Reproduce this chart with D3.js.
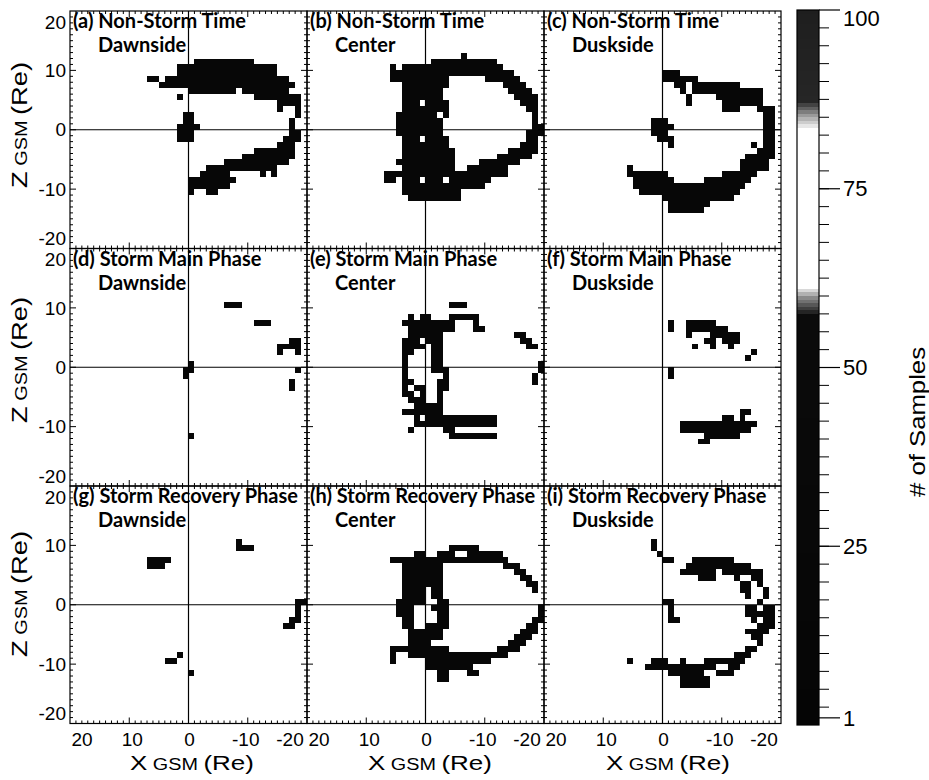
<!DOCTYPE html>
<html>
<head>
<meta charset="utf-8">
<script src="https://cdn.jsdelivr.net/npm/d3@7"></script>
<style>
  body { margin: 0; background: #fff; }
  text { font-family: "Liberation Sans", Arial, sans-serif; fill: #000; }
  .ttl { font-family: Lato, "Open Sans", sans-serif; font-weight: 700; }
</style>
</head>
<body>
<div id="chart"></div>
<script>
// occupied 1 Re bins, stored as row runs: [Z bottom edge, X left edge, X right edge]
const cellsA = [
  [11, -1, -11], [10, 2, -15], [9, 2, -15], [8, 7, 5], [8, 4, -17], [7, 5, -18],
  [6, 0, -8], [6, -9, -17], [5, 2, 1], [5, -11, -19], [4, -15, -19],
  [3, -15, -16], [3, -18, -19], [2, 1, -1], [2, -18, -19], [1, 1, -1], [1, -17, -18],
  [0, 2, -2], [0, -17, -18], [-1, 2, -1], [-1, -17, -19], [-2, 2, -1], [-2, -16, -19],
  [-3, -15, -18], [-4, -11, -18], [-5, -9, -18], [-6, -6, -17], [-7, -3, -15],
  [-8, -2, -7], [-8, -12, -13], [-8, -14, -15], [-9, 0, -8], [-10, 0, -7],
  [-11, 0, -1], [-11, -3, -5]
];
const cellsB = [
  [12, -6, -7], [11, -1, -12], [10, 6, 5], [10, 4, -13], [9, 6, -15],
  [8, 6, -4], [8, -10, -16], [7, 4, -4], [7, -13, -17], [6, 4, -3], [6, -14, -18],
  [5, 4, -3], [5, -15, -19], [4, 4, 1], [4, 0, -4], [4, -16, -19], [3, 4, -4], [3, -17, -19],
  [2, 5, -2], [2, -3, -4], [2, -18, -19], [1, 5, -3], [1, -18, -19], [0, 5, -3], [0, -18, -20],
  [-1, 5, -3], [-1, -17, -20], [-2, 4, 1], [-2, 0, -4], [-2, -17, -19], [-3, 4, -4], [-3, -16, -19],
  [-4, 4, -5], [-4, -14, -19], [-5, 4, -5], [-5, -12, -18], [-6, 5, -5], [-6, -9, -16],
  [-7, 4, -5], [-7, -7, -14], [-8, 7, -14], [-9, 7, 5], [-9, 4, 1], [-9, 0, -3], [-9, -4, -11],
  [-10, 4, -10], [-11, 4, -6], [-12, 3, -6]
];
const cellsC = [
  [9, 0, -3], [8, 0, -6], [7, -2, -4], [7, -5, -13], [6, -3, -4], [6, -5, -17],
  [5, -4, -5], [5, -9, -17], [4, -4, -5], [4, -10, -17], [3, -10, -13], [3, -16, -19],
  [2, -17, -19], [1, 2, -1], [1, -17, -19], [0, 2, -2], [0, -17, -19],
  [-1, 2, -1], [-1, -17, -19], [-2, 1, -2], [-2, -17, -19],
  [-3, -1, -2], [-3, -15, -16], [-3, -17, -19], [-4, -16, -19], [-5, -14, -19],
  [-6, -13, -18], [-7, 6, 5], [-7, -13, -18], [-8, 6, -1], [-8, -10, -16],
  [-9, 5, -2], [-9, -7, -15], [-10, 5, -14], [-11, 4, -13], [-12, 0, -12],
  [-13, -1, -8], [-14, -1, -7]
];
const cellsD = [
  [10, -6, -9], [7, -11, -14], [4, -17, -19], [3, -15, -19], [2, -15, -16], [2, -18, -19],
  [0, 0, -1], [-1, 1, -1], [-1, -18, -19], [-2, 1, 0], [-3, -17, -18], [-4, -17, -18],
  [-12, 0, -1]
];
const cellsE = [
  [10, -4, -7], [8, 3, 2], [8, 1, -1], [8, -4, -9], [7, 4, -5], [7, -8, -9],
  [6, 3, -5], [6, -8, -10], [5, 3, -3], [5, -15, -17], [4, 4, 1], [4, 0, -3], [4, -16, -18],
  [3, 4, 0], [3, -1, -3], [3, -17, -19], [2, 4, 2], [2, -1, -3], [1, 4, 3], [1, -1, -3],
  [0, 4, 3], [0, -1, -3], [0, -19, -20], [-1, 4, 3], [-1, -1, -4], [-1, -19, -20],
  [-2, 4, 3], [-2, -3, -4], [-2, -18, -19], [-3, 4, 2], [-3, -2, -4], [-3, -18, -19],
  [-4, 4, 3], [-4, 2, 0], [-4, -2, -4], [-5, 4, 2], [-5, 1, 0], [-5, -2, -3],
  [-6, 3, 0], [-6, -2, -3], [-7, 2, -3], [-8, 4, 2], [-8, 2, -3],
  [-9, 2, 1], [-9, 0, -12], [-10, 2, -12], [-11, 3, 2], [-11, -3, -5], [-12, -4, -12]
];
const cellsF = [
  [7, -1, -2], [7, -4, -9], [6, -1, -2], [6, -4, -11], [5, -4, -5], [5, -8, -13],
  [4, -7, -9], [4, -10, -13], [3, -5, -6], [3, -8, -9], [3, -11, -12],
  [2, -15, -16], [1, -14, -15], [-1, -1, -2], [-2, -1, -2],
  [-8, -13, -15], [-9, -10, -12], [-9, -13, -14], [-10, -3, -16], [-11, -3, -15],
  [-12, -7, -13], [-13, -6, -8]
];
const cellsG = [
  [10, -8, -9], [9, -8, -11], [7, 7, 3], [6, 7, 4],
  [0, -18, -20], [-1, -18, -19], [-2, -18, -19], [-3, -17, -19], [-4, -16, -18],
  [-9, 2, 1], [-10, 4, 2], [-12, 0, -1]
];
const cellsH = [
  [9, -4, -9], [8, 2, 0], [8, -2, -5], [8, -7, -13], [7, 6, -14],
  [6, 4, -3], [6, -13, -16], [5, 4, -3], [5, -15, -17], [4, 4, -3], [4, -16, -18],
  [3, 4, -3], [3, -17, -19], [2, 4, 0], [2, -1, -3], [2, -18, -19],
  [1, 4, 0], [1, -1, -3], [0, 5, 0], [0, -2, -4],
  [-1, 5, 2], [-1, -1, -4], [-1, -19, -20], [-2, 5, 2], [-2, -2, -4], [-2, -19, -20],
  [-3, 4, 2], [-3, -2, -4], [-3, -18, -20], [-4, 4, 2], [-4, 0, -4], [-4, -17, -19],
  [-5, 3, -3], [-5, -16, -19], [-6, 3, -3], [-6, -15, -18], [-7, 3, -1], [-7, -14, -17],
  [-8, 6, -4], [-8, -12, -16], [-9, 6, 5], [-9, 3, -14], [-10, 6, 5], [-10, 0, -11],
  [-11, 0, -8], [-12, -2, -4], [-12, -7, -9], [-13, -2, -4]
];
const cellsI = [
  [10, 2, 1], [9, 2, 1], [8, 1, 0], [7, 0, -2], [7, -5, -12], [6, -4, -15],
  [5, -3, -9], [5, -10, -17], [4, -6, -9], [4, -12, -13], [4, -15, -17],
  [3, -13, -15], [3, -16, -17], [2, -13, -15], [2, -17, -18], [1, -14, -15], [1, -17, -18],
  [0, 0, -2], [0, -16, -17], [-1, -1, -2], [-1, -14, -16], [-1, -17, -19],
  [-2, -1, -2], [-2, -14, -19], [-3, -1, -3], [-3, -15, -16], [-3, -17, -19],
  [-4, -16, -19], [-5, -14, -18], [-6, -15, -17], [-7, -16, -17], [-8, -14, -16],
  [-9, -12, -15], [-10, 6, 5], [-10, 2, -1], [-10, -3, -4], [-10, -7, -14],
  [-11, 3, -9], [-11, -11, -13], [-12, -1, -7], [-12, -9, -12], [-13, -3, -8], [-14, -3, -8]
];

const panelLetters = ["(a)", "(b)", "(c)", "(d)", "(e)", "(f)", "(g)", "(h)", "(i)"];
const phaseNames = ["Non-Storm Time", "Storm Main Phase", "Storm Recovery Phase"];
const sideNames = ["Dawnside", "Center", "Duskside"];
const panelCells = [cellsA, cellsB, cellsC, cellsD, cellsE, cellsF, cellsG, cellsH, cellsI];

const xTicks = [20, 10, 0, -10, -20];
const zTicks = [20, 10, 0, -10, -20];
const cbTicks = [1, 25, 50, 75, 100];
// grey levels of the (scanned) colour bar
const cbStops = [0, 57, 59.5, 61, 83, 85, 87, 100];
const cbGreys = ["#050505", "#0b0b0b", "#8a8a8a", "#ffffff", "#ffffff", "#9a9a9a", "#262626", "#1e1e1e"];

const width = 929, height = 780;
const left0 = 70, top0 = 11, pw = 237, ph = 237.5;

const svg = d3.select("#chart").append("svg")
  .attr("width", width).attr("height", height);

const x = d3.scaleLinear().domain([20, -20]).range([0, pw]);
const z = d3.scaleLinear().domain([-20, 20]).range([ph, 0]);
const grey = d3.scaleLinear().domain(cbStops).range(cbGreys);

panelCells.forEach((cells, i) => {
  const col = i % 3, row = Math.floor(i / 3);
  const g = svg.append("g")
    .attr("transform", `translate(${left0 + col * pw},${top0 + row * ph})`);

  // crosshair at X=0, Z=0
  g.append("line").attr("x1", x(0)).attr("x2", x(0)).attr("y1", 0).attr("y2", ph)
    .attr("stroke", "#000").attr("stroke-width", 1.2);
  g.append("line").attr("x1", 0).attr("x2", pw).attr("y1", z(0)).attr("y2", z(0))
    .attr("stroke", "#000").attr("stroke-width", 1.2);

  g.append("g").attr("shape-rendering", "crispEdges")
    .selectAll("rect")
    .data(cells)
    .join("rect")
      .attr("x", d => x(d[1]))
      .attr("width", d => x(d[2]) - x(d[1]))
      .attr("y", d => z(d[0] + 1))
      .attr("height", d => z(d[0]) - z(d[0] + 1))
      .attr("fill", grey(20));

  // frame with ticks on all sides
  g.append("rect").attr("width", pw).attr("height", ph)
    .attr("fill", "none").attr("stroke", "#000").attr("stroke-width", 1.2);
  const minor = d3.range(-19, 20);
  const tk = g.append("g").attr("stroke", "#000").attr("stroke-width", 1);
  minor.forEach(v => {
    const len = v % 10 === 0 ? 6 : 3;
    tk.append("line").attr("x1", x(v)).attr("x2", x(v)).attr("y1", ph).attr("y2", ph - len);
    tk.append("line").attr("x1", x(v)).attr("x2", x(v)).attr("y1", 0).attr("y2", len);
    tk.append("line").attr("y1", z(v)).attr("y2", z(v)).attr("x1", 0).attr("x2", len);
    tk.append("line").attr("y1", z(v)).attr("y2", z(v)).attr("x1", pw).attr("x2", pw - len);
  });

  // y tick labels on the first column
  if (col === 0) {
    g.selectAll(".zl").data(zTicks).join("text")
      .attr("x", -4)
      .attr("y", d => z(d) + (d === 20 ? 11 : d === -20 ? -10 : 0))
      .attr("dy", "0.35em")
      .attr("text-anchor", "end")
      .style("font-size", "19px")
      .text(d => String(d));
  }
  // x tick labels on the bottom row
  if (row === 2) {
    const nudge = {"20": 12, "10": 3, "0": 1, "-10": -2, "-20": -17};
    g.selectAll(".xl").data(xTicks).join("text")
      .attr("x", d => x(d) + nudge[d])
      .attr("y", ph + 22.5)
      .attr("text-anchor", "middle")
      .style("font-size", "19px")
      .text(d => String(d));
  }

  // panel title
  g.append("text").attr("class", "ttl").attr("x", 3).attr("y", 17)
    .style("font-size", "20px")
    .text(`${panelLetters[i]} ${phaseNames[row]}`);
  g.append("text").attr("class", "ttl").attr("x", 28).attr("y", 41)
    .style("font-size", "20px")
    .text(sideNames[col]);
});

// axis titles
const zTitleY = [125, 360, 594];
zTitleY.forEach(cy => {
  const t = svg.append("text")
    .attr("transform", `translate(27,${cy}) rotate(-90)`)
    .attr("text-anchor", "middle")
    .attr("textLength", 126).attr("lengthAdjust", "spacingAndGlyphs");
  t.append("tspan").style("font-size", "22px").text("Z");
  t.append("tspan").style("font-size", "16px").text(" GSM ");
  t.append("tspan").style("font-size", "22px").text("(Re)");
});
const xTitleX = [192, 430, 668];
xTitleX.forEach(cx => {
  const t = svg.append("text")
    .attr("x", cx).attr("y", 770)
    .attr("text-anchor", "middle")
    .attr("textLength", 124).attr("lengthAdjust", "spacingAndGlyphs");
  t.append("tspan").style("font-size", "21px").text("X");
  t.append("tspan").style("font-size", "16px").text(" GSM ");
  t.append("tspan").style("font-size", "21px").text("(Re)");
});

// colour bar
const cb = d3.scaleLinear().domain([0, 100]).range([725, 10]);
const cbX = 797, cbW = 22;
const cbG = svg.append("g");
cbG.append("g").attr("shape-rendering", "crispEdges")
  .selectAll("rect")
  .data(d3.range(0, 100, 0.5))
  .join("rect")
    .attr("x", cbX).attr("width", cbW)
    .attr("y", d => cb(d + 0.5))
    .attr("height", d => cb(d) - cb(d + 0.5))
    .attr("fill", d => grey(d));
cbG.append("rect").attr("x", cbX).attr("y", cb(100)).attr("width", cbW)
  .attr("height", cb(0) - cb(100)).attr("fill", "none")
  .attr("stroke", "#000").attr("stroke-width", 1.2);
cbG.selectAll("line.mn")
  .data(d3.range(2.5, 100, 2.5))
  .join("line")
    .attr("x1", cbX + cbW).attr("x2", cbX + cbW + 10)
    .attr("y1", d => cb(d)).attr("y2", d => cb(d))
    .attr("stroke", "#000");
cbG.selectAll("line.mj")
  .data(cbTicks)
  .join("line")
    .attr("x1", cbX + cbW).attr("x2", cbX + cbW + 21)
    .attr("y1", d => cb(d)).attr("y2", d => cb(d))
    .attr("stroke", "#000").attr("stroke-width", 1.2);
cbG.selectAll("text")
  .data(cbTicks)
  .join("text")
    .attr("x", cbX + cbW + 24)
    .attr("y", d => cb(d) + (d === 100 ? 8 : 0))
    .attr("dy", "0.35em")
    .style("font-size", "22px")
    .text(d => String(d));

svg.append("text")
  .attr("transform", "translate(925,422) rotate(-90)")
  .attr("text-anchor", "middle")
  .attr("textLength", 150).attr("lengthAdjust", "spacingAndGlyphs")
  .style("font-size", "22px")
  .text("# of Samples");
</script>
</body>
</html>
